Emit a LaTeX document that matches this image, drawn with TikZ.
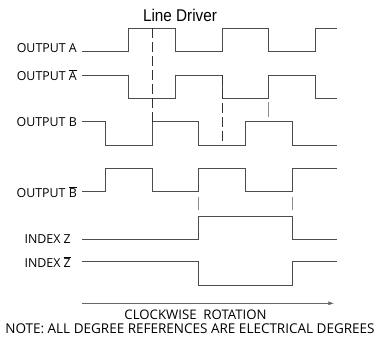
\documentclass[tikz,border=0pt]{standalone}
\usepackage{fontspec}
\setmainfont{Open Sans}
\newfontfamily\titlefont{Liberation Sans}
\usetikzlibrary{positioning, arrows.meta}
\newcommand{\labelgap}{5pt}
\newcommand{\barred}[1]{\(\overline{\mbox{#1}}\)}
\newcommand{\rotationarrow}{-{Latex[length=2mm,width=1.4mm]}}

\tikzset{
  wave/.style={draw=black!70, line width=0.8pt},
  marker/.style={draw=black!80, line width=0.7pt, dash pattern=on 10pt off 4pt},
  tickmark/.style={draw=black!45, line width=0.8pt},
  siglabel/.style={font=\fontsize{12.4}{14}\selectfont, inner sep=0pt},
  notetext/.style={font=\fontsize{13.2}{15}\selectfont, inner sep=0pt},
}

\begin{document}
\begin{tikzpicture}[x=1pt, y=-1pt]
            \useasboundingbox (0,0) rectangle (381,337);
            \node (title) at (180,15.5) {\titlefont\fontsize{17}{20}\selectfont\scalebox{0.9}[1]{Line Driver}};
            % output A
            \coordinate (astart) at (82,51.7);
            \node[siglabel, left=\labelgap of astart, yshift=4pt] (outa) {OUTPUT A};
            \draw[wave] (astart) -| (128.7,28.3) -| (175.3,51.7) -| (222,28.3) -| (268.7,51.7) -| (315.3,28.3) -- (337,28.3);
            % output A bar
            \coordinate (abstart) at (82,75);
            \node[siglabel, left=\labelgap of abstart] (outabar) {OUTPUT \barred{A}};
            \draw[wave] (abstart) -| (128.7,98.3) -| (175.3,75) -| (222,98.3) -| (268.7,75) -| (315.3,98.3) -- (337,98.3);
            % output B
            \coordinate (bstart) at (82,121.7);
            \node[siglabel, left=\labelgap of bstart] (outb) {OUTPUT B};
            \draw[wave] (bstart) -| (105.3,145) -| (152,121.7) -| (198.7,145) -| (245.3,121.7) -| (292,145) -- (337,145);
            % output B bar
            \coordinate (bbstart) at (82,191.7);
            \node[siglabel, left=\labelgap of bbstart] (outbbar) {OUTPUT \barred{B}};
            \draw[wave] (bbstart) -| (105.3,168.3) -| (152,191.7) -| (198.7,168.3) -| (245.3,191.7) -| (292,168.3) -- (337,168.3);
            % index Z and Z bar
            \coordinate (zstart) at (82,239);
            \node[siglabel, left=11pt of zstart] (indexz) {INDEX Z};
            \draw[wave] (zstart) -| (198.7,216) -| (292,239) -- (337,239);
            \coordinate (zbstart) at (82,261.7);
            \node[siglabel, left=11pt of zbstart] (indexzbar) {INDEX \barred{Z}};
            \draw[wave] (zbstart) -| (198.7,285) -| (292,261.7) -- (337,261.7);
            % phase markers
            \draw[marker] (152,28.3) -- (152,121.7);
            \draw[marker] (222,75) -- (222,145);
            \draw[tickmark] (268.7,102) -- (268.7,117);
            \draw[tickmark] (198.7,197) -- (198.7,210);
            \draw[tickmark] (292,197) -- (292,210);
            % rotation
            \coordinate (rotstart) at (82,303.3);
            \coordinate (rotend) at (334,303.3);
            \draw[\rotationarrow, draw=black!60, line width=0.6pt] (rotstart) -- (rotend);
            \node[notetext] (rotation) at (195.5,314.5) {CLOCKWISE\ \ ROTATION};
            \node[notetext, font=\fontsize{13.5}{15}\selectfont, below=4pt of rotation, xshift=-5.5pt] (note) {NOTE: ALL DEGREE REFERENCES ARE ELECTRICAL DEGREES};
        \end{tikzpicture}
\end{document}
